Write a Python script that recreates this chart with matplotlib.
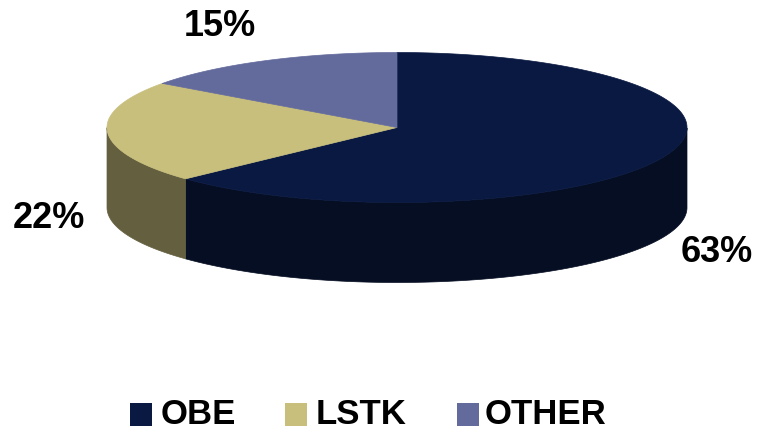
import numpy as np
import matplotlib.pyplot as plt
from matplotlib.patches import Polygon, Rectangle

# data
labels = ["OBE", "LSTK", "OTHER"]
shares = [63, 22, 15]
top_colors = ["#0a1942", "#c8bf7d", "#636a9c"]
side_colors = ["#050e22", "#645f3f", "#3a3e5c"]

# pie layout (pixels)
cx, cy = 397, 127.5
rx, ry = 290, 75
depth = 80
start = 90.0
label_pos = [(717, 252), (49, 218), (220, 26)]

plt.rcParams['font.family'] = ['Liberation Sans', 'DejaVu Sans']

fig = plt.figure(figsize=(7.58, 4.32), dpi=100)
ax = fig.add_axes([0, 0, 1, 1])
ax.set_xlim(0, 758)
ax.set_ylim(432, 0)
ax.axis('off')

total = float(sum(shares))
angles = []
a = start
for s in shares:
    a2 = a - 360.0 * s / total
    angles.append((a2, a))
    a = a2

def ell(t, dz=0):
    return cx + rx * np.cos(t), cy - ry * np.sin(t) + dz

# sides (front half only)
for (a1, a2), col in zip(angles, side_colors):
    t = np.radians(np.linspace(a1, a2, 400))
    t = t[np.sin(t) <= 0.001]
    if len(t) < 2:
        continue
    x, y = ell(t)
    xb, yb = ell(t, depth)
    pts = np.column_stack([np.r_[x, xb[::-1]], np.r_[y, yb[::-1]]])
    ax.add_patch(Polygon(pts, closed=True, facecolor=col, edgecolor=col, lw=0.5))

# tops
for (a1, a2), col in zip(angles, top_colors):
    t = np.radians(np.linspace(a1, a2, 400))
    x, y = ell(t)
    pts = np.column_stack([np.r_[cx, x], np.r_[cy, y]])
    ax.add_patch(Polygon(pts, closed=True, facecolor=col, edgecolor=col, lw=0.5))

for s, (lx, ly) in zip(shares, label_pos):
    ax.text(lx, ly, f"{s}%", ha='center', va='center', fontsize=26,
            fontweight='bold', color='black')

# legend
box_x = [130, 285, 457]
text_x = [161, 316, 485]
for lab, col, bx, tx in zip(labels, top_colors, box_x, text_x):
    ax.add_patch(Rectangle((bx, 403), 22, 23, facecolor=col, edgecolor='none'))
    ax.text(tx, 415, lab, ha='left', va='center', fontsize=25,
            fontweight='bold', color='black')

fig.savefig("out.png", dpi=100)
